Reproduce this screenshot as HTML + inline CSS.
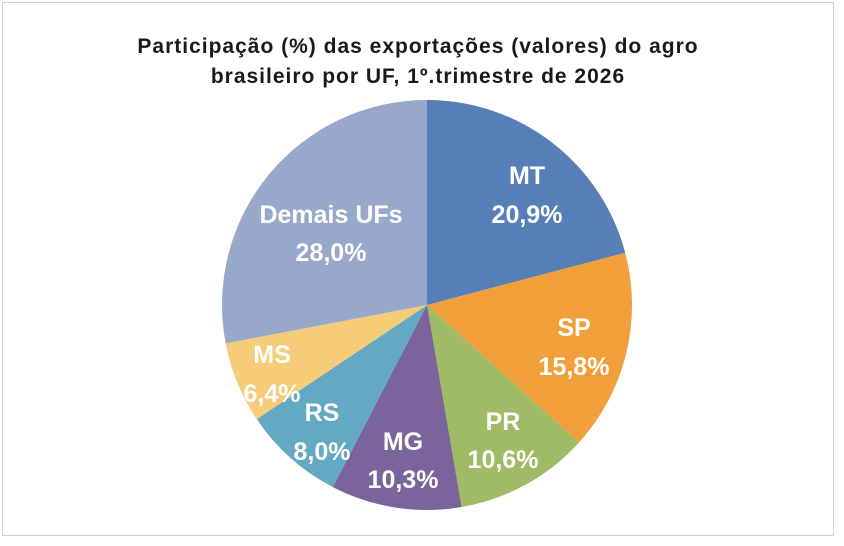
<!DOCTYPE html>
<html><head><meta charset="utf-8"><style>
body{margin:0;background:#fff;}
svg{display:block;}
text{font-family:"Liberation Sans",sans-serif;}
</style></head><body>
<svg id="s" width="844" height="546" viewBox="0 0 844 546">
<rect x="2.5" y="2.5" width="831" height="533" fill="#fff" stroke="#d0d0d0" stroke-width="1"/>
<text x="418" y="53" text-anchor="middle" font-size="21" font-weight="bold" letter-spacing="1" fill="#1a1a1a">Participação (%) das exportações (valores) do agro</text>
<text x="418" y="83" text-anchor="middle" font-size="21" font-weight="bold" letter-spacing="1" fill="#1a1a1a">brasileiro por UF,  1º.trimestre de 2026</text>
<g id="pie"></g>
<g font-size="25" font-weight="bold" fill="#fff" text-anchor="middle">
<text x="527" y="184">MT</text><text x="527" y="223">20,9%</text>
<text x="574" y="336">SP</text><text x="574" y="375">15,8%</text>
<text x="503" y="430">PR</text><text x="503" y="468">10,6%</text>
<text x="403" y="450">MG</text><text x="403" y="488">10,3%</text>
<text x="322" y="421">RS</text><text x="322" y="460">8,0%</text>
<text x="272" y="363">MS</text><text x="272" y="402">6,4%</text>
<text x="331" y="223">Demais UFs</text><text x="331" y="261">28,0%</text>
</g>
</svg>
<script>
var cx=427,cy=305,r=205;
var d=[[20.9,"#577fb7"],[15.8,"#f09f3b"],[10.6,"#a0bb66"],[10.3,"#7b649c"],[8.0,"#63a9c3"],[6.4,"#f5cd78"],[28.0,"#97a8ca"]];
var a=0,g=document.getElementById("pie"),h="";
d.forEach(function(s){var a1=a,a2=a+s[0]/100*2*Math.PI;a=a2;
var x1=cx+r*Math.sin(a1),y1=cy-r*Math.cos(a1),x2=cx+r*Math.sin(a2),y2=cy-r*Math.cos(a2);
h+='<path d="M'+cx+','+cy+'L'+x1+','+y1+'A'+r+','+r+' 0 '+(a2-a1>Math.PI?1:0)+' 1 '+x2+','+y2+'Z" fill="'+s[1]+'"/>';});
g.innerHTML=h;
</script>
</body></html>
